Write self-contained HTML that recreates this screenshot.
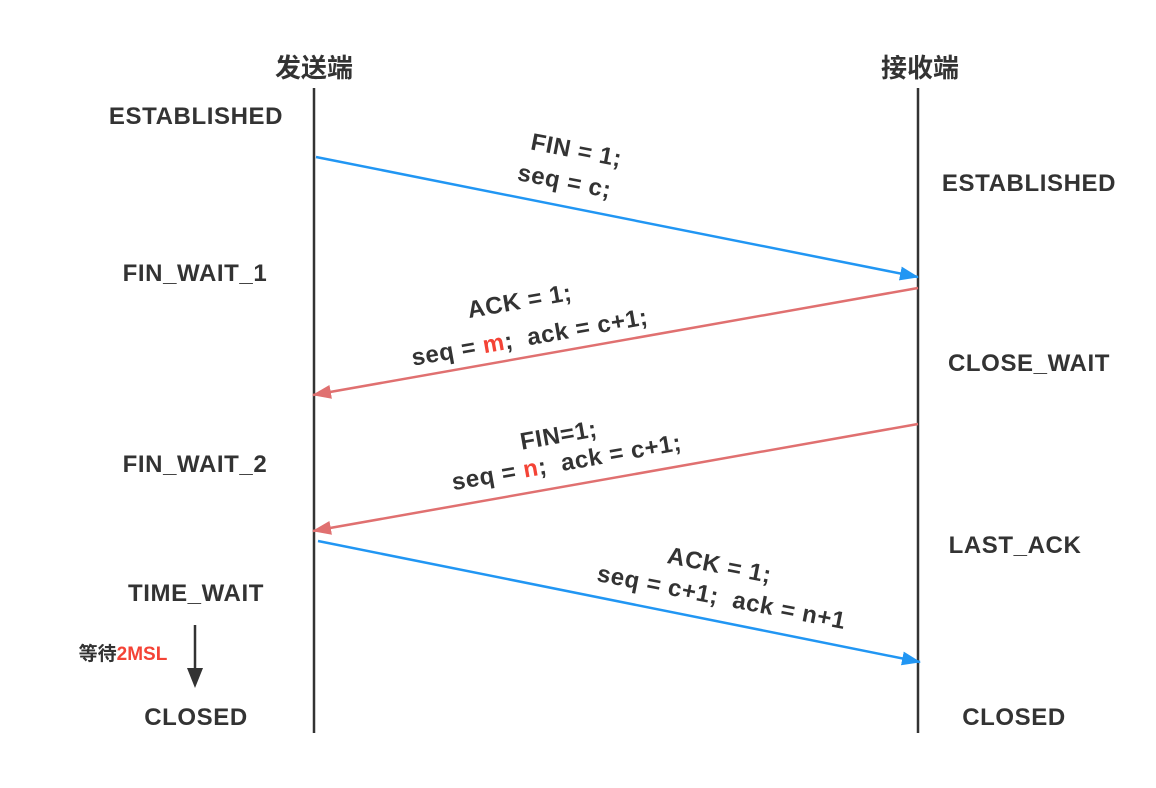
<!DOCTYPE html>
<html><head><meta charset="utf-8"><style>
html,body{margin:0;padding:0;background:#fff;}
svg text{font-family:"Liberation Sans","Noto Sans CJK SC",sans-serif;font-weight:bold;fill:#333;white-space:pre;}
</style></head><body>
<svg width="1156" height="783" viewBox="0 0 1156 783" xmlns="http://www.w3.org/2000/svg">
<defs>
<marker id="ab" markerWidth="20" markerHeight="14" refX="18" refY="7" orient="auto" markerUnits="userSpaceOnUse"><path d="M0,0 L19,7 L0,14 z" fill="#2196F3"/></marker>
<marker id="ar" markerWidth="20" markerHeight="14" refX="18" refY="7" orient="auto" markerUnits="userSpaceOnUse"><path d="M0,0 L19,7 L0,14 z" fill="#E07070"/></marker>
</defs>
<g>
<text x="314" y="77" font-size="26" text-anchor="middle">发送端</text>
<text x="920" y="77" font-size="26" text-anchor="middle">接收端</text>
</g>
<line x1="314" y1="88" x2="314" y2="733" stroke="#333" stroke-width="2.5"/>
<line x1="918" y1="88" x2="918" y2="733" stroke="#333" stroke-width="2.5"/>
<g font-size="24" text-anchor="middle" letter-spacing="0.6">
<text x="196" y="124">ESTABLISHED</text>
<text x="195" y="281">FIN_WAIT_1</text>
<text x="195" y="472">FIN_WAIT_2</text>
<text x="196" y="601">TIME_WAIT</text>
<text x="196" y="725">CLOSED</text>
</g>
<g font-size="24" text-anchor="middle" letter-spacing="0.6">
<text x="1029" y="191">ESTABLISHED</text>
<text x="1029" y="371">CLOSE_WAIT</text>
<text x="1015" y="553">LAST_ACK</text>
<text x="1014" y="725">CLOSED</text>
</g>
<line x1="316" y1="157" x2="918" y2="277" stroke="#2196F3" stroke-width="2.5" marker-end="url(#ab)"/>
<line x1="918" y1="288" x2="313" y2="395" stroke="#E07070" stroke-width="2.5" marker-end="url(#ar)"/>
<line x1="918" y1="424" x2="313" y2="531" stroke="#E07070" stroke-width="2.5" marker-end="url(#ar)"/>
<line x1="318" y1="541" x2="920" y2="662" stroke="#2196F3" stroke-width="2.5" marker-end="url(#ab)"/>
<g font-size="24" text-anchor="middle" letter-spacing="0.6">
<text transform="translate(575,158) rotate(11)">FIN = 1;</text>
<text transform="translate(563,189) rotate(11)">seq = c;</text>
<text transform="translate(521,309) rotate(-10)">ACK = 1;</text>
<text transform="translate(531,345) rotate(-10)">seq = <tspan fill="#F44336">m</tspan>;  ack = c+1;</text>
<text transform="translate(560,443) rotate(-10)">FIN=1;</text>
<text transform="translate(568,470) rotate(-10)">seq = <tspan fill="#F44336">n</tspan>;  ack = c+1;</text>
<text transform="translate(718,573) rotate(11)">ACK = 1;</text>
<text transform="translate(720,605) rotate(11)">seq = c+1;  ack = n+1</text>
</g>
<line x1="195" y1="625" x2="195" y2="670" stroke="#333" stroke-width="2.5"/>
<polygon points="187,668 203,668 195,688" fill="#333"/>
<text x="123" y="660" font-size="19" text-anchor="middle">等待<tspan fill="#F44336">2MSL</tspan></text>
</svg>
</body></html>
